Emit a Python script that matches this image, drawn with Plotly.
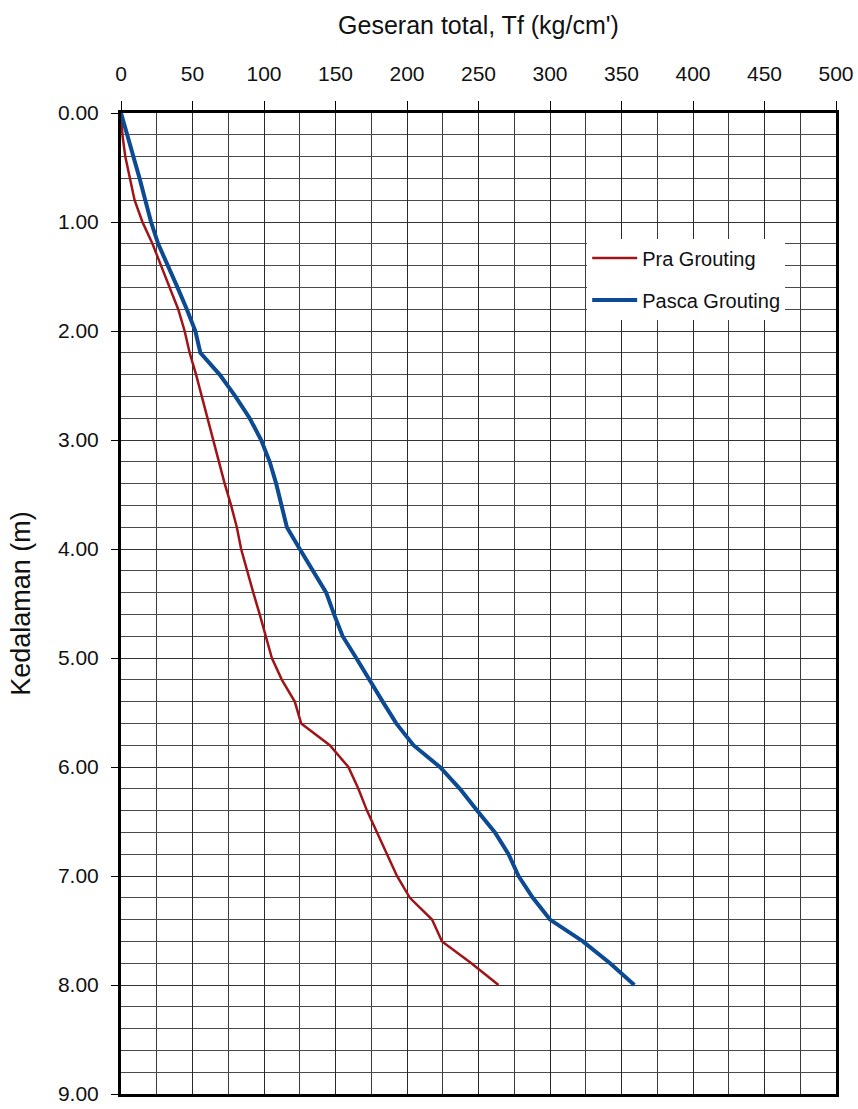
import plotly.graph_objects as go

depth = [0.0, 0.2, 0.4, 0.6, 0.8, 1.0, 1.2, 1.4, 1.6, 1.8, 2.0, 2.2, 2.4, 2.6, 2.8, 3.0,
         3.2, 3.4, 3.6, 3.8, 4.0, 4.2, 4.4, 4.6, 4.8, 5.0, 5.2, 5.4, 5.6, 5.8, 6.0,
         6.2, 6.4, 6.6, 6.8, 7.0, 7.2, 7.4, 7.6, 7.8, 8.0]

pra_grouting = [0, 1, 3, 6, 9.5, 15, 22, 28, 34, 40, 44.5, 48, 52.5, 56.5, 60.5, 64.5,
                68, 72.5, 77, 81, 84, 88, 92.5, 97, 101, 105.5, 112.5, 121.5, 126, 146, 159,
                166, 172, 179, 186, 193, 202, 217.5, 224.5, 245, 264]

pasca_grouting = [0, 4.5, 9, 13, 17, 21, 26, 33, 39.5, 46, 52, 55.5, 69, 80, 90, 98,
                  104, 108.5, 112, 116, 125, 134, 143.5, 149, 155, 164.5, 173.5, 183, 192.5, 204.5, 223,
                  237, 249, 261.5, 271, 278, 288, 300, 323, 342, 359]

x_ticks = [0, 50, 100, 150, 200, 250, 300, 350, 400, 450, 500]
y_ticks = [0, 1, 2, 3, 4, 5, 6, 7, 8, 9]

FONT = "Liberation Sans, Arial, Helvetica, sans-serif"

fig = go.Figure()
fig.add_trace(go.Scatter(x=pra_grouting, y=depth, mode="lines", name="Pra Grouting",
                         line=dict(color="#a01418", width=2.5), legendgroup="a"))
fig.add_trace(go.Scatter(x=pasca_grouting, y=depth, mode="lines", name="Pasca Grouting",
                         line=dict(color="#0c4a94", width=4), legendgroup="b"))

fig.update_layout(
    width=858, height=1109,
    margin=dict(l=121, r=22, t=113, b=15, autoexpand=False),
    paper_bgcolor="white", plot_bgcolor="white",
    font=dict(family=FONT, color="#111111", size=20),
    showlegend=True,
    legend=dict(x=0.652, y=0.872, xanchor="left", yanchor="top",
                bgcolor="white", borderwidth=0, font=dict(size=20, family=FONT),
                tracegroupgap=13, traceorder="grouped", itemwidth=45),
)

fig.update_xaxes(
    side="top", range=[0, 500], tickvals=x_ticks,
    ticks="outside", ticklen=9, tickwidth=1, tickcolor="black",
    ticklabelstandoff=12,
    showgrid=True, gridcolor="#2a2a2a", gridwidth=1,
    minor=dict(dtick=25, showgrid=True, gridcolor="#3a3a3a", gridwidth=1),
    showline=True, linecolor="black", linewidth=3, mirror=True,
    zeroline=False,
    title=dict(text="Geseran total, Tf (kg/cm')", font=dict(size=25, family=FONT), standoff=20),
    tickfont=dict(size=21, family=FONT),
)

fig.update_yaxes(
    range=[9, 0], tickvals=y_ticks, tickformat=".2f",
    ticks="outside", ticklen=7, tickwidth=1, tickcolor="black",
    ticklabelstandoff=8,
    showgrid=True, gridcolor="#333333", gridwidth=1.4,
    minor=dict(dtick=0.2, showgrid=True, gridcolor="#4a4a4a", gridwidth=1.4),
    showline=True, linecolor="black", linewidth=3, mirror=True,
    zeroline=False,
    title=dict(text="Kedalaman (m)", font=dict(size=27, family=FONT), standoff=20),
    tickfont=dict(size=21, family=FONT),
)

fig.write_html("out.html")
